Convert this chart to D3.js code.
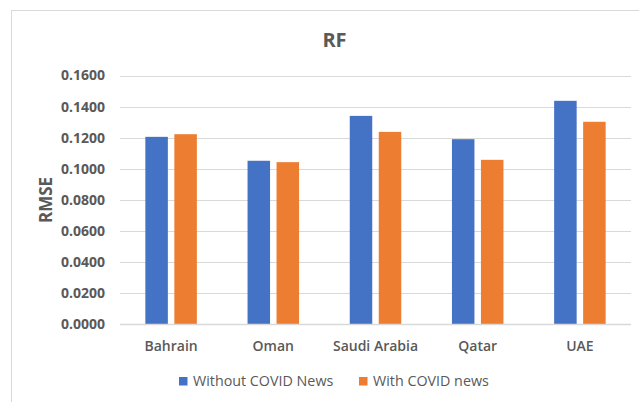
<!DOCTYPE html>
<html>
<head>
<meta charset="utf-8">
<script src="https://cdn.jsdelivr.net/npm/d3@7"></script>
<style>
  html, body { margin: 0; padding: 0; background: #fff; }
  svg { display: block; font-family: "Open Sans", "Noto Sans", sans-serif; }
</style>
</head>
<body>
<svg id="chart" width="639" height="402"></svg>
<script>
// RMSE of the RF model per country, without / with COVID news features
const countries = ["Bahrain", "Oman", "Saudi Arabia", "Qatar", "UAE"];
const seriesNames = ["Without COVID News", "With COVID news"];
const withoutNews = [0.1205, 0.1051, 0.1340, 0.1190, 0.1437];
const withNews = [0.1222, 0.1042, 0.1237, 0.1057, 0.1302];
const yTicks = [0, 0.02, 0.04, 0.06, 0.08, 0.10, 0.12, 0.14, 0.16];
const colors = ["#4472C4", "#ED7D31"];

const svg = d3.select("#chart");
const textColor = "#595959";
const gridColor = "#d9d9d9";

// chart frame
svg.append("rect")
  .attr("x", 11.5).attr("y", 10.5)
  .attr("width", 700).attr("height", 500)
  .attr("fill", "#fff").attr("stroke", gridColor).attr("stroke-width", 1);

const plot = { left: 120, right: 631, top: 75.5, bottom: 324 };

const y = d3.scaleLinear().domain([0, 0.16]).range([plot.bottom, plot.top]);
const x0 = d3.scaleBand().domain(countries).range([plot.left, plot.right]);
const x1 = d3.scaleBand().domain(seriesNames)
  .range([0, x0.bandwidth()]).paddingInner(0.224).paddingOuter(0.874);

// gridlines
svg.append("g")
  .selectAll("line")
  .data(yTicks.slice(1))
  .join("line")
  .attr("x1", plot.left).attr("x2", plot.right)
  .attr("y1", d => Math.round(y(d)) + 0.5).attr("y2", d => Math.round(y(d)) + 0.5)
  .attr("stroke", gridColor).attr("stroke-width", 1);

// y axis labels
const yAxis = svg.append("g")
  .attr("transform", `translate(${plot.left - 15},0)`)
  .call(d3.axisLeft(y).tickValues(yTicks).tickFormat(d3.format(".4f")).tickSize(0).tickPadding(0));
yAxis.select(".domain").remove();
yAxis.selectAll("text")
  .attr("fill", textColor)
  .attr("font-size", 14)
  .attr("font-weight", 700)
  .attr("font-family", "'Open Sans', sans-serif");

// bars
const rows = countries.map((c, i) => ({ country: c, values: [withoutNews[i], withNews[i]] }));
const groups = svg.append("g")
  .selectAll("g")
  .data(rows)
  .join("g")
  .attr("transform", d => `translate(${x0(d.country)},0)`);
groups.selectAll("rect")
  .data(d => d.values.map((v, j) => ({ name: seriesNames[j], value: v, j })))
  .join("rect")
  .attr("x", d => x1(d.name))
  .attr("width", x1.bandwidth())
  .attr("y", d => y(d.value))
  .attr("height", d => y(0) - y(d.value))
  .attr("fill", d => colors[d.j]);

// baseline
svg.append("line")
  .attr("x1", plot.left).attr("x2", plot.right)
  .attr("y1", plot.bottom + 0.5).attr("y2", plot.bottom + 0.5)
  .attr("stroke", gridColor).attr("stroke-width", 1.5);

// x axis labels
const xAxis = svg.append("g")
  .attr("transform", `translate(0,${plot.bottom})`)
  .call(d3.axisBottom(x0).tickSize(0).tickPadding(17));
xAxis.select(".domain").remove();
xAxis.selectAll("text")
  .attr("fill", textColor)
  .attr("font-size", 14)
  .attr("font-weight", 600)
  .attr("font-family", "'Open Sans', sans-serif");

// title
svg.append("text")
  .attr("x", 334.5).attr("y", 47)
  .attr("text-anchor", "middle")
  .attr("fill", textColor)
  .attr("font-size", 20)
  .attr("font-weight", 700)
  .text("RF");

// y axis title
svg.append("text")
  .attr("transform", `translate(52,200) rotate(-90)`)
  .attr("text-anchor", "middle")
  .attr("fill", textColor)
  .attr("font-size", 17)
  .attr("font-weight", 700)
  .text("RMSE");

// legend
const legendX = [179, 359];
const legend = svg.append("g");
const items = legend.selectAll("g")
  .data(seriesNames)
  .join("g")
  .attr("transform", (d, i) => `translate(${legendX[i]},377)`);
items.append("rect")
  .attr("width", 8.5).attr("height", 8.5)
  .attr("fill", (d, i) => colors[i]);
items.append("text")
  .attr("x", 14).attr("y", 9)
  .attr("fill", textColor)
  .attr("font-size", 14.3)
  .attr("font-weight", 500)
  .text(d => d);
</script>
</body>
</html>
